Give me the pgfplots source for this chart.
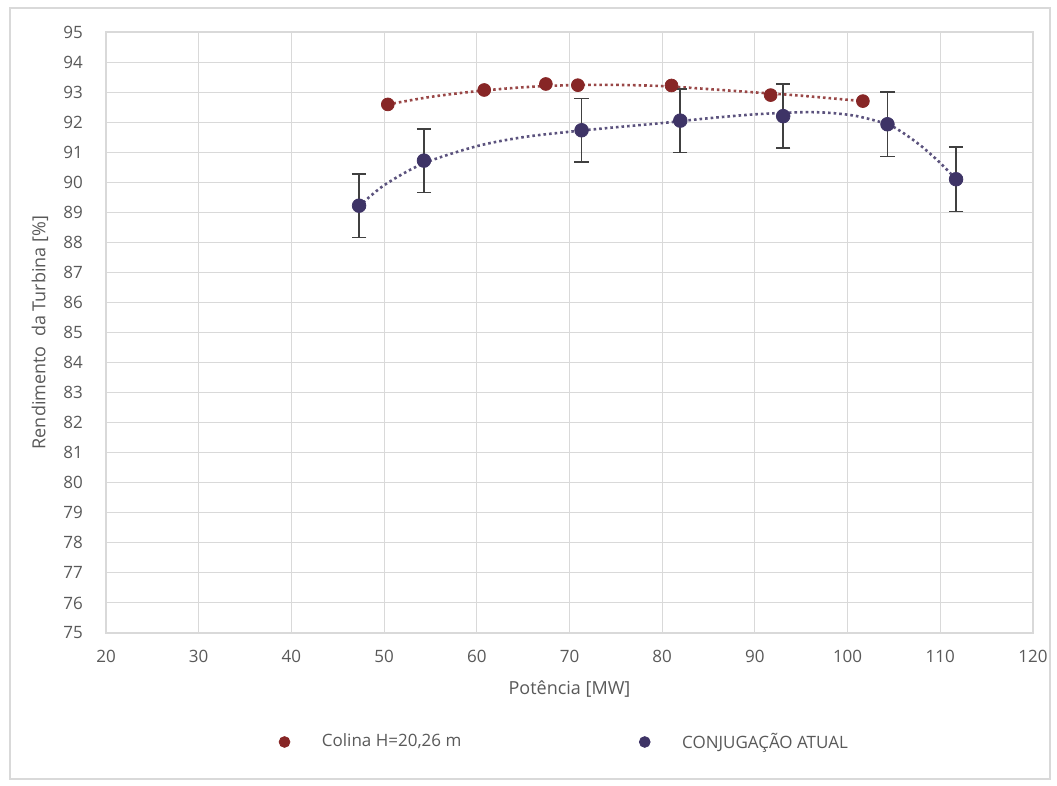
\documentclass[border=0pt]{standalone}
\usepackage{pgfplots}
\pgfplotsset{compat=1.18}
\usepackage{fontspec}
\setmainfont{Open Sans}

\definecolor{txt}{RGB}{89,89,89}
\definecolor{gridc}{RGB}{217,217,217}
\definecolor{colina}{RGB}{135,38,38}
\definecolor{atual}{RGB}{62,52,102}
\definecolor{errc}{RGB}{64,64,64}

\begin{document}
\begin{tikzpicture}
\path[use as bounding box] (-53pt,-76.5pt) rectangle (475.5pt,316.5pt);
\begin{axis}[
    scale only axis,
    width=463.5pt, height=300.5pt,
    xmin=20, xmax=120, ymin=75, ymax=95,
    xtick={20,30,...,120},
    ytick={75,76,...,95},
    grid=major,
    major grid style={gridc, line width=0.5pt},
    axis line style={gridc, line width=0.6pt},
    major tick length=0pt,
    /pgf/number format/assume math mode=true,
    tick label style={font=\fontsize{8.5}{10}\selectfont, text=txt},
    xticklabel style={anchor=north, yshift=-5pt},
    yticklabel style={anchor=east, xshift=-8pt},
    xlabel={Potência [MW]},
    ylabel={Rendimento\ \ da Turbina [\%]},
    xlabel style={at={(rel axis cs:0.5,0)}, anchor=center, yshift=-28pt,
        font=\fontsize{9}{11}\selectfont, text=txt},
    every axis y label/.style={at={(rel axis cs:0,0.5)}, rotate=90, anchor=center, yshift=33pt,
        font=\fontsize{9}{11}\selectfont, text=txt},
    legend columns=2,
    legend style={at={(rel axis cs:0.5,0)}, anchor=center, yshift=-54.5pt, xshift=-2pt,
        draw=none, fill=none, font=\fontsize{8.5}{10}\selectfont, text=txt,
        /tikz/every odd column/.append style={column sep=14pt},
        /tikz/every even column/.append style={column sep=87pt}},
    legend cell align=left,
    legend image code/.code={\draw[mark size=2.7pt] plot coordinates {(0cm,0cm)};},
]
% trendlines
\addplot[forget plot, smooth, colina!85!white, line width=1.3pt, dash pattern=on 1.3pt off 1.5pt]
coordinates {(50.4,92.59) (55,92.84) (60,93.03) (65,93.16) (70,93.23) (75,93.24) (80,93.2) (85,93.1) (90,92.99) (95,92.88) (101.6,92.7)};
\addplot[forget plot, smooth, atual!85!white, line width=1.3pt, dash pattern=on 1.3pt off 1.5pt]
coordinates {(47.3,89.2) (50,89.9) (54.2,90.62) (60,91.2) (65,91.5) (70,91.68) (75,91.83) (80,91.97) (85,92.13) (90,92.26) (95,92.33) (98,92.31) (101,92.2) (104.3,91.93) (106,91.64) (108,91.19) (110,90.64) (111.7,90.1)};
% Colina
\addplot[only marks, mark=*, mark size=3.2pt, color=colina]
coordinates {(50.4,92.59) (60.8,93.07) (67.45,93.27) (70.9,93.23) (81.0,93.22) (91.7,92.9) (101.65,92.7)};
% Conjugacao atual
\addplot[only marks, mark=*, mark size=3.4pt, color=atual,
    error bars/.cd, y dir=both, y explicit,
    error bar style={errc, line width=0.8pt},
    error mark options={errc, rotate=90, mark size=3.6pt, line width=0.8pt}]
coordinates {(47.3,89.22) +- (0,1.06) (54.3,90.72) +- (0,1.06) (71.3,91.73) +- (0,1.06)
 (81.95,92.05) +- (0,1.06) (93.05,92.2) +- (0,1.07) (104.3,91.93) +- (0,1.07) (111.7,90.1) +- (0,1.07)};
\legend{{Colina H=20,26 m}, {CONJUGAÇÃO ATUAL}}
\end{axis}
\draw[gridc, line width=0.6pt] (-48pt,-73pt) rectangle (472pt,312.5pt);
\end{tikzpicture}
\end{document}
